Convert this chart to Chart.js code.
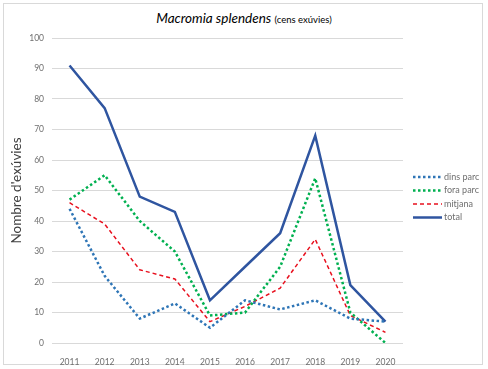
<!DOCTYPE html>
<html>
<head>
<meta charset="utf-8">
<script src="https://cdn.jsdelivr.net/npm/chart.js@4"></script>
<style>
  html,body{margin:0;padding:0;background:#fff;}
  #wrap{position:relative;width:488px;height:369px;overflow:hidden;font-family:Lato,'Open Sans',sans-serif;}
  #frame{position:absolute;left:3px;top:3px;width:480px;height:362px;border:1px solid #d9d9d9;box-sizing:border-box;}
  #title{position:absolute;left:0;top:10px;width:488px;text-align:center;color:#000;font-size:13px;}
  #title i{font-size:13.5px;}
  #title span{font-size:9.5px;}
  canvas{position:absolute;left:0;top:0;}
</style>
</head>
<body>
<div id="wrap">
  <div id="frame"></div>
  <div id="title"><i>Macromia splendens</i> <span>(cens exúvies)</span></div>
  <canvas id="chart" width="488" height="369"></canvas>
</div>
<script>
  const years     = ['2011','2012','2013','2014','2015','2016','2017','2018','2019','2020'];
  const dinsParc  = [44, 22, 8, 13, 5, 14, 11, 14, 8, 7];
  const foraParc  = [47, 55, 40, 30, 9, 10, 25, 54, 10, 0];
  const mitjana   = [46, 39, 24, 21, 7, 12, 18, 34, 9, 3.5];
  const total     = [91, 77, 48, 43, 14, 25, 36, 68, 19, 7];

  const series = [
    { label:'dins parc', data:dinsParc, color:'#2e75b6', width:2.5, dash:[2.5,2.5] },
    { label:'fora parc', data:foraParc, color:'#00b050', width:2.5, dash:[2.5,2.5] },
    { label:'mitjana',   data:mitjana,  color:'#e8101e', width:1.5, dash:[4,3] },
    { label:'total',     data:total,    color:'#2f55a0', width:2.5, dash:[] },
  ];

  // legend drawn on the right, using dataset styles
  const sideLegend = {
    id:'sideLegend',
    afterDraw(chart) {
      const ctx = chart.ctx;
      const x0 = 413, x1 = 442, yStart = 177, step = 13.5;
      ctx.save();
      ctx.font = '9px Lato, "Open Sans", sans-serif';
      ctx.textBaseline = 'middle';
      ctx.fillStyle = '#6f6f6f';
      chart.data.datasets.forEach((ds,i) => {
        const y = yStart + i*step;
        ctx.beginPath();
        ctx.strokeStyle = ds.borderColor;
        ctx.lineWidth = ds.borderWidth;
        ctx.setLineDash(ds.borderDash || []);
        ctx.moveTo(x0,y); ctx.lineTo(x1,y); ctx.stroke();
        ctx.fillText(ds.label, x1+2, y);
      });
      ctx.restore();
    }
  };

  new Chart(document.getElementById('chart'), {
    type:'line',
    data:{
      labels: years,
      datasets: series.map(s => ({
        label: s.label,
        data: s.data,
        borderColor: s.color,
        backgroundColor: s.color,
        borderWidth: s.width,
        borderDash: s.dash,
        pointRadius: 0,
        fill: false,
        tension: 0,
      }))
    },
    options:{
      responsive:false,
      animation:false,
      layout:{ padding:{ top:38, right:85, bottom:0, left:0 } },
      plugins:{ legend:{ display:false }, title:{ display:false }, tooltip:{ enabled:false } },
      scales:{
        x:{
          offset:true,
          grid:{ display:false },
          border:{ display:false },
          ticks:{ font:{ family:'Lato', size:8.5 }, color:'#6f6f6f', padding:6, maxRotation:0 },
          afterFit: s => { s.height = 26; }
        },
        y:{
          min:0, max:100,
          grid:{ color:'#d9d9d9', lineWidth:1, drawTicks:false },
          border:{ display:false },
          ticks:{ stepSize:10, font:{ family:'Lato', size:8.5 }, color:'#6f6f6f', padding:8 },
          title:{ display:true, text:"Nombre d'exúvies", font:{ family:'Lato', size:13.5 }, color:'#404040', padding:{ top:9, bottom:2 } },
          afterFit: s => { s.width = 52; }
        }
      }
    },
    plugins:[sideLegend]
  });
</script>
</body>
</html>
